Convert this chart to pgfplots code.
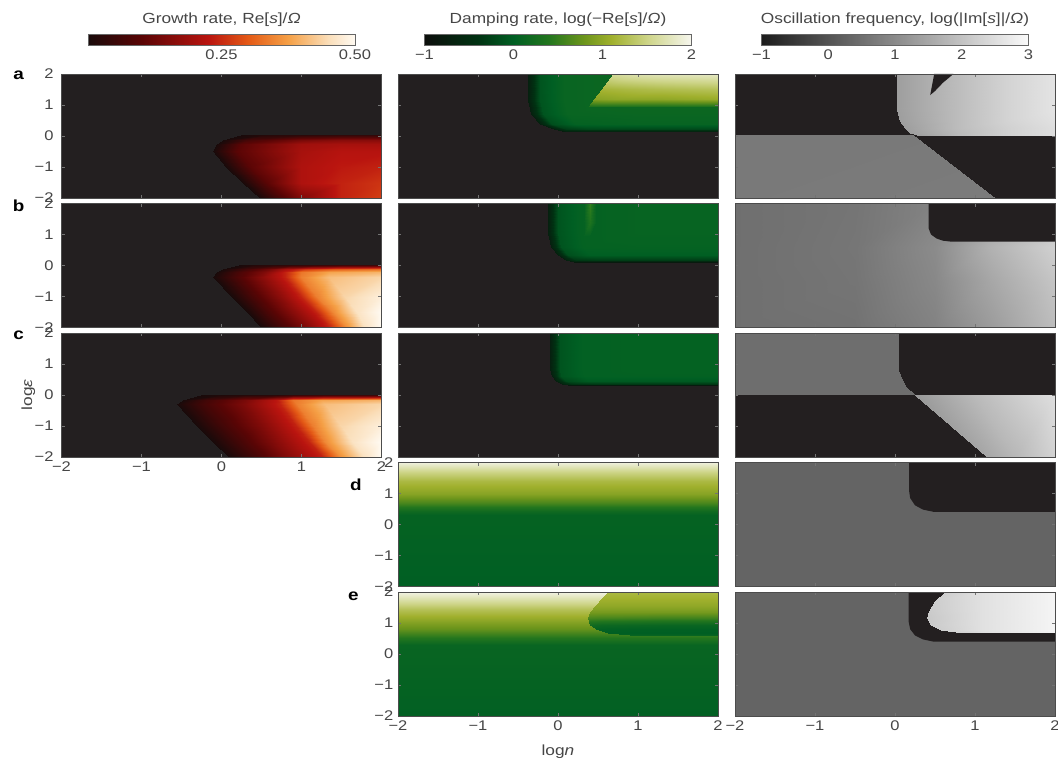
\documentclass[border=0pt]{standalone}
\usepackage{fontspec}
\setmainfont{Liberation Sans}[FakeStretch=1.18]
\usepackage{pgfplots}
\pgfplotsset{compat=1.18}
\usepgfplotslibrary{patchplots}
\definecolor{bgdark}{RGB}{35,31,32}
\definecolor{txt}{RGB}{70,70,70}
\pgfplotsset{
  colormap={growth}{rgb255(0cm)=(25,10,10); rgb255(2cm)=(90,5,5); rgb255(4.5cm)=(185,20,15); rgb255(6cm)=(228,90,22); rgb255(7.5cm)=(245,160,70); rgb255(9cm)=(250,222,185); rgb255(10cm)=(255,250,242)},
  colormap={damp}{rgb255(0cm)=(12,14,12); rgb255(6cm)=(0,50,18); rgb255(10cm)=(0,95,35); rgb255(14cm)=(35,118,30); rgb255(18cm)=(110,150,28); rgb255(21cm)=(160,176,45); rgb255(25cm)=(205,212,135); rgb255(30cm)=(246,246,238)},
  colormap={osc}{rgb255(0cm)=(28,28,28); rgb255(40cm)=(250,250,250)},
  every tick label/.append style={font=\fontsize{10.5}{12}\selectfont, text=txt},
  panel/.style={
    scale only axis, width=240pt, height=93pt, anchor=south west,
    xmin=-2, xmax=2, ymin=-2, ymax=2,
    axis background/.style={fill=bgdark},
    axis on top,
    xtick={-2,-1,0,1,2}, ytick={-2,-1,0,1,2},
    xticklabels={}, yticklabels={},
    tick align=inside, major tick length=2.5pt,
    tick style={black!55, line width=0.4pt},
    axis line style={black!70, line width=0.5pt},
  },
  xlab/.style={xticklabels={−2,−1,0,1,2}},
  ylab/.style={yticklabels={−2,−1,0,1,2}},
  growthax/.style={panel, colormap name=growth, point meta min=0, point meta max=0.5},
  dampax/.style={panel, colormap name=damp, point meta min=-1, point meta max=2},
  oscax/.style={panel, colormap name=osc, point meta min=-1, point meta max=3},
  lat/.style={patch, patch type=rectangle, mesh input=lattice, mesh/cols=#1, shader=interp, point meta=explicit},
  cbar/.style={colorbar horizontal,
    colorbar style={at={(parent axis.north)}, anchor=south, yshift=30pt,
      scale only axis, width=200.25pt, height=8.25pt,
      title={#1}, title style={yshift=-3.5pt, text=txt, font=\fontsize{11}{13}\selectfont},
      axis background/.style={}, axis line style={black!60, line width=0.4pt},
      major tick length=0pt, ytick=\empty}},
}
\begin{document}
\begin{tikzpicture}[font=\fontsize{11}{13}\selectfont]
% ================= column 1: growth rate =================
\begin{axis}[growthax, ylab, yticklabel style={xshift=-2.5pt}, at={(46.125pt,-148.5pt)},
  cbar={Growth rate, Re[\textit{s}]/\textit{Ω}},
  colorbar style={xtick={0.25,0.5}, xticklabels={0.25,0.50}}]
\addplot[lat=5] table[meta=c] {
x y c
0.25 0.02 0
0.55 0.02 0.02
1.0 0.02 0.03
1.5 0.02 0.04
2.0 0.02 0.04
0.02 -0.12 0
0.32 -0.12 0.07
1.0 -0.12 0.14
1.5 -0.12 0.16
2.0 -0.12 0.16
-0.06 -0.25 0
0.24 -0.25 0.1
1.0 -0.25 0.19
1.5 -0.25 0.2
2.0 -0.25 0.2
-0.11 -0.47 0
0.19 -0.47 0.1
1.0 -0.47 0.2
1.5 -0.47 0.22
2.0 -0.47 0.22
0.06 -1.0 0
0.36 -1.0 0.1
1.0 -1.0 0.21
1.5 -1.0 0.23
2.0 -1.0 0.24
0.27 -1.5 0
0.57 -1.5 0.1
1.0 -1.5 0.21
1.5 -1.5 0.24
2.0 -1.5 0.26
0.48 -2.0 0
0.78 -2.0 0.09
1.0 -2.0 0.15
1.5 -2.0 0.24
2.0 -2.0 0.27
};
\end{axis}
\begin{axis}[growthax, ylab, yticklabel style={xshift=-2.5pt}, at={(46.125pt,-245.625pt)}]
\addplot[lat=7] table[meta=c] {
x y c
0.22 0.02 0
0.45 0.02 0.02
0.7 0.02 0.03
0.9 0.02 0.04
1.2 0.02 0.05
1.55 0.02 0.06
2.0 0.02 0.06
0.02 -0.1 0
0.3 -0.1 0.06
0.6 -0.1 0.13
0.8 -0.1 0.2
1.05 -0.1 0.26
1.4 -0.1 0.3
2.0 -0.1 0.32
-0.06 -0.22 0
0.25 -0.22 0.08
0.55 -0.22 0.15
0.8 -0.22 0.24
1.0 -0.22 0.33
1.35 -0.22 0.38
2.0 -0.22 0.4
-0.1 -0.37 0
0.2 -0.37 0.08
0.5 -0.37 0.16
0.8 -0.37 0.24
1.0 -0.37 0.34
1.35 -0.37 0.41
2.0 -0.37 0.44
0.135 -1.0 0
0.42 -1.0 0.08
0.72 -1.0 0.16
1.0 -1.0 0.24
1.2 -1.0 0.34
1.55 -1.0 0.44
2.0 -1.0 0.48
0.32 -1.5 0
0.6 -1.5 0.08
0.9 -1.5 0.16
1.18 -1.5 0.24
1.4 -1.5 0.35
1.7 -1.5 0.46
2.0 -1.5 0.5
0.5 -2.0 0
0.8 -2.0 0.08
1.1 -2.0 0.16
1.35 -2.0 0.24
1.57 -2.0 0.36
1.8 -2.0 0.46
2.0 -2.0 0.5
};
\end{axis}
\begin{axis}[growthax, ylab, xlab, yticklabel style={xshift=-2.5pt}, at={(46.125pt,-342.75pt)},
  ylabel={log\textit{ε}}, ylabel style={at={(axis description cs:-0.104,0.5)}, anchor=center, text=txt}]
\addplot[lat=7] table[meta=c] {
x y c
-0.25 0.0 0
0.0 0.0 0.01
0.3 0.0 0.02
0.7 0.0 0.03
0.9 0.0 0.05
1.3 0.0 0.06
2.0 0.0 0.06
-0.48 -0.15 0
-0.2 -0.15 0.06
0.3 -0.15 0.14
0.7 -0.15 0.23
0.9 -0.15 0.33
1.25 -0.15 0.38
2.0 -0.15 0.4
-0.56 -0.3 0
-0.25 -0.3 0.06
0.3 -0.3 0.15
0.73 -0.3 0.24
0.95 -0.3 0.34
1.3 -0.3 0.41
2.0 -0.3 0.44
-0.3 -1.0 0
0.0 -1.0 0.06
0.5 -1.0 0.15
0.93 -1.0 0.24
1.15 -1.0 0.34
1.5 -1.0 0.44
2.0 -1.0 0.48
-0.1 -1.5 0
0.2 -1.5 0.06
0.65 -1.5 0.15
1.1 -1.5 0.24
1.3 -1.5 0.35
1.65 -1.5 0.46
2.0 -1.5 0.5
0.1 -2.0 0
0.4 -2.0 0.06
0.8 -2.0 0.15
1.27 -2.0 0.24
1.5 -2.0 0.36
1.8 -2.0 0.46
2.0 -2.0 0.5
};
\end{axis}
% ================= column 2: damping rate =================
\begin{axis}[dampax, at={(298.5pt,-148.5pt)},
  cbar={Damping rate, log(−Re[\textit{s}]/\textit{Ω})},
  colorbar style={xtick={-1,0,1,2}, xticklabels={−1,0,1,2}}]
\addplot[lat=5] table[meta=c] {
x y c
-0.38 2 -0.7
-0.23 2 -0.1
0.07 2 0.1
1 2 0.15
2 2 0.15
-0.38 1.15 -0.7
-0.23 1.15 -0.1
0.07 1.15 0.1
1 1.15 0.15
2 1.15 0.15
-0.34 0.7 -0.7
-0.19 0.7 -0.1
0.11 0.7 0.1
1 0.7 0.12
2 0.7 0.12
-0.22 0.4 -0.7
-0.07 0.4 -0.15
0.23 0.4 0.05
1 0.4 0.08
2 0.4 0.08
-0.05 0.22 -0.7
0.1 0.22 -0.3
0.4 0.22 -0.2
1 0.22 -0.2
2 0.22 -0.2
0.1 0.13 -0.8
0.25 0.13 -0.8
0.55 0.13 -0.8
1 0.13 -0.8
2 0.13 -0.8
};
\addplot[lat=4] table[meta=c] {
x y c
0.69 2 1.6
0.99 2 1.7
1.3 2 1.75
2 2 1.8
0.55 1.5 1.15
0.85 1.5 1.2
1.3 1.5 1.25
2 1.5 1.3
0.45 1.2 0.95
0.75 1.2 1.0
1.3 1.2 1.0
2 1.2 1.05
0.37 0.95 0.3
0.67 0.95 0.3
1.3 0.95 0.3
2 0.95 0.3
};
\end{axis}
\begin{axis}[dampax, at={(298.5pt,-245.625pt)}]
\addplot[lat=5] table[meta=c] {
x y c
-0.13 2 -0.7
0.0 2 -0.1
0.27 2 0.05
1 2 0.08
2 2 0.08
-0.13 1.05 -0.7
0.0 1.05 -0.1
0.27 1.05 0.05
1 1.05 0.08
2 1.05 0.08
-0.09 0.6 -0.7
0.04 0.6 -0.1
0.31 0.6 0.05
1 0.6 0.06
2 0.6 0.06
0.0 0.35 -0.7
0.13 0.35 -0.15
0.4 0.35 0.0
1 0.35 0.0
2 0.35 0.0
0.1 0.18 -0.7
0.23 0.18 -0.35
0.5 0.18 -0.3
1 0.18 -0.3
2 0.18 -0.3
0.2 0.11 -0.8
0.33 0.11 -0.8
0.6 0.11 -0.8
1 0.11 -0.8
2 0.11 -0.8
};
\addplot[lat=3] table[meta=c] {
x y c
0.33 2 0.06
0.4 2 0.5
0.47 2 0.06
0.33 1.4 0.06
0.4 1.4 0.35
0.47 1.4 0.06
0.33 0.95 0.06
0.4 0.95 0.06
0.47 0.95 0.06
};
\end{axis}
\begin{axis}[dampax, at={(298.5pt,-342.75pt)}]
\addplot[lat=5] table[meta=c] {
x y c
-0.1 2 -0.7
0.02 2 -0.1
0.3 2 0.03
1 2 0.05
2 2 0.05
-0.1 0.85 -0.7
0.02 0.85 -0.1
0.3 0.85 0.03
1 0.85 0.05
2 0.85 0.05
-0.08 0.6 -0.7
0.04 0.6 -0.1
0.32 0.6 0.03
1 0.6 0.04
2 0.6 0.04
-0.02 0.45 -0.7
0.1 0.45 -0.2
0.38 0.45 -0.05
1 0.45 -0.05
2 0.45 -0.05
0.05 0.36 -0.7
0.17 0.36 -0.4
0.45 0.36 -0.35
1 0.36 -0.35
2 0.36 -0.35
0.12 0.32 -0.8
0.24 0.32 -0.8
0.52 0.32 -0.8
1 0.32 -0.8
2 0.32 -0.8
};
\end{axis}
\begin{axis}[dampax, ylab, at={(298.5pt,-439.875pt)}]
\addplot[lat=2] table[meta=c] {
x y c
-2 2 1.9
2 2 1.9
-2 1.7 1.5
2 1.7 1.5
-2 1.4 1.2
2 1.4 1.2
-2 1.0 0.95
2 1.0 0.95
-2 0.7 0.6
2 0.7 0.6
-2 0.45 0.2
2 0.45 0.2
-2 0.3 0.06
2 0.3 0.06
-2 -2 0.0
2 -2 0.0
};
\end{axis}
\begin{axis}[dampax, ylab, xlab, at={(298.5pt,-537pt)},
  xlabel={log\textit{n}}, xlabel style={at={(axis description cs:0.5,-0.29)}, anchor=center, text=txt}]
\addplot[lat=2] table[meta=c] {
x y c
-2 2 1.95
2 2 1.95
-2 1.75 1.65
2 1.75 1.65
-2 1.45 1.3
2 1.45 1.3
-2 1.15 1.05
2 1.15 1.05
-2 0.8 0.75
2 0.8 0.75
-2 0.5 0.35
2 0.5 0.35
-2 0.3 0.1
2 0.3 0.1
-2 -2 0.02
2 -2 0.02
};
\addplot[lat=4] table[meta=c] {
x y c
0.63 2.0 1.2
0.78 2.0 1.2
1.3 2.0 1.2
2 2.0 1.2
0.55 1.8 1.12
0.7 1.8 1.12
1.3 1.8 1.12
2 1.8 1.12
0.46 1.55 1.0
0.61 1.55 1.0
1.3 1.55 1.0
2 1.55 1.0
0.4 1.35 0.85
0.55 1.35 0.85
1.3 1.35 0.85
2 1.35 0.85
0.38 1.15 0.6
0.53 1.15 0.58
1.3 1.15 0.55
2 1.15 0.55
0.4 0.95 0.2
0.55 0.95 0.15
1.3 0.95 0.12
2 0.95 0.12
0.48 0.8 0.05
0.63 0.8 0.03
1.3 0.8 0.02
2 0.8 0.02
0.62 0.68 0.0
0.77 0.68 0.0
1.3 0.68 0.0
2 0.68 0.0
0.9 0.6 0.08
1.05 0.6 0.08
1.3 0.6 0.08
2 0.6 0.08
};
\end{axis}
% ================= column 3: oscillation frequency =================
\begin{axis}[oscax, at={(551.25pt,-148.5pt)},
  cbar={Oscillation frequency, log(|Im[\textit{s}]|/\textit{Ω})},
  colorbar style={xtick={-1,0,1,2,3}, xticklabels={−1,0,1,2,3}}]
\addplot[lat=2] table[meta=c] {
x y c
-2 0.03 0.68
0.22 0.03 0.68
-2 -2 0.68
1.25 -2 0.72
};
\addplot[lat=4] table[meta=c] {
x y c
0.025 2 1.35
0.8 2 1.9
1.4 2 2.3
2 2 2.6
0.025 0.84 1.35
0.8 0.84 1.9
1.4 0.84 2.3
2 0.84 2.6
0.06 0.5 1.35
0.8 0.5 1.9
1.4 0.5 2.3
2 0.5 2.55
0.12 0.25 1.35
0.8 0.25 1.9
1.4 0.25 2.25
2 0.25 2.5
0.19 0.1 1.35
0.8 0.1 1.85
1.4 0.1 2.25
2 0.1 2.5
0.27 0.03 1.35
0.8 0.03 1.85
1.4 0.03 2.25
2 0.03 2.5
};
\addplot[fill=bgdark, draw=none] coordinates {(0.44,1.32) (0.49,2.0) (0.73,2.0) (0.6,1.72) (0.5,1.45)} -- cycle;
\end{axis}
\begin{axis}[oscax, at={(551.25pt,-245.625pt)}]
\addplot[lat=5] table[meta=c] {
x y c
-2 2 0.5
-0.5 2 0.6
0.5 2 0.85
1.2 2 1.3
2 2 1.8
-2 0.6 0.5
-0.5 0.6 0.62
0.5 0.6 1.0
1.2 0.6 1.7
2 0.6 2.25
-2 -0.5 0.5
-0.5 -0.5 0.6
0.5 -0.5 0.95
1.2 -0.5 1.5
2 -0.5 2.05
-2 -2 0.5
-0.5 -2 0.55
0.5 -2 0.85
1.2 -2 1.3
2 -2 1.9
};
\addplot[fill=bgdark, draw=none] coordinates {(0.42,2) (0.42,1.2) (0.45,1.0) (0.52,0.87) (0.6,0.8) (0.7,0.77) (2,0.77) (2,2)} -- cycle;
\end{axis}
\begin{axis}[oscax, at={(551.25pt,-342.75pt)}]
\addplot[lat=2] table[meta=c] {
x y c
-2 2 0.48
0.04 2 0.48
-2 0.8 0.48
0.04 0.8 0.48
-2 0.55 0.48
0.07 0.55 0.48
-2 0.3 0.48
0.13 0.3 0.48
-2 0.0 0.48
0.25 0.0 0.48
};
\addplot[lat=3] table[meta=c] {
x y c
0.25 0 1.25
1.0 0 1.85
2 0 2.5
1.15 -2 1.5
1.5 -2 1.8
2 -2 2.3
};
\end{axis}
\begin{axis}[oscax, at={(551.25pt,-439.875pt)}]
\addplot[lat=2] table[meta=c] {
x y c
-2 2 0.3
2 2 0.3
-2 -2 0.3
2 -2 0.3
};
\addplot[fill=bgdark, draw=none] coordinates {(0.175,2) (0.175,1.1) (0.19,0.85) (0.25,0.62) (0.35,0.48) (0.48,0.41) (2,0.41) (2,2)} -- cycle;
\end{axis}
\begin{axis}[oscax, xlab, at={(551.25pt,-537pt)}]
\addplot[lat=2] table[meta=c] {
x y c
-2 2 0.3
2 2 0.3
-2 -2 0.3
2 -2 0.3
};
\addplot[fill=bgdark, draw=none] coordinates {(0.17,2) (0.17,1.05) (0.19,0.8) (0.25,0.6) (0.35,0.47) (0.48,0.40) (2,0.40) (2,2)} -- cycle;
\addplot[lat=3] table[meta=c] {
x y c
0.63 2 2.2
1.1 2 2.55
2 2 2.9
0.5 1.7 2.2
1.1 1.7 2.55
2 1.7 2.9
0.43 1.4 2.15
1.1 1.4 2.55
2 1.4 2.9
0.40 1.15 2.1
1.1 1.15 2.55
2 1.15 2.9
0.45 0.92 2.15
1.1 0.92 2.55
2 0.92 2.9
0.58 0.77 2.2
1.1 0.77 2.55
2 0.77 2.9
0.85 0.69 2.25
1.1 0.69 2.5
2 0.69 2.85
};
\end{axis}
% panel letters
\node[font=\bfseries\fontsize{12}{14}\selectfont] at (14pt,-56.5pt) {a};
\node[font=\bfseries\fontsize{12}{14}\selectfont] at (14pt,-154.5pt) {b};
\node[font=\bfseries\fontsize{12}{14}\selectfont] at (14pt,-251.25pt) {c};
\node[font=\bfseries\fontsize{12}{14}\selectfont] at (267pt,-363.75pt) {d};
\node[font=\bfseries\fontsize{12}{14}\selectfont] at (265pt,-447.5pt) {e};
\pgfresetboundingbox
\path[use as bounding box] (0pt,0pt) rectangle (793.5pt,-569.25pt);
\end{tikzpicture}
\end{document}
